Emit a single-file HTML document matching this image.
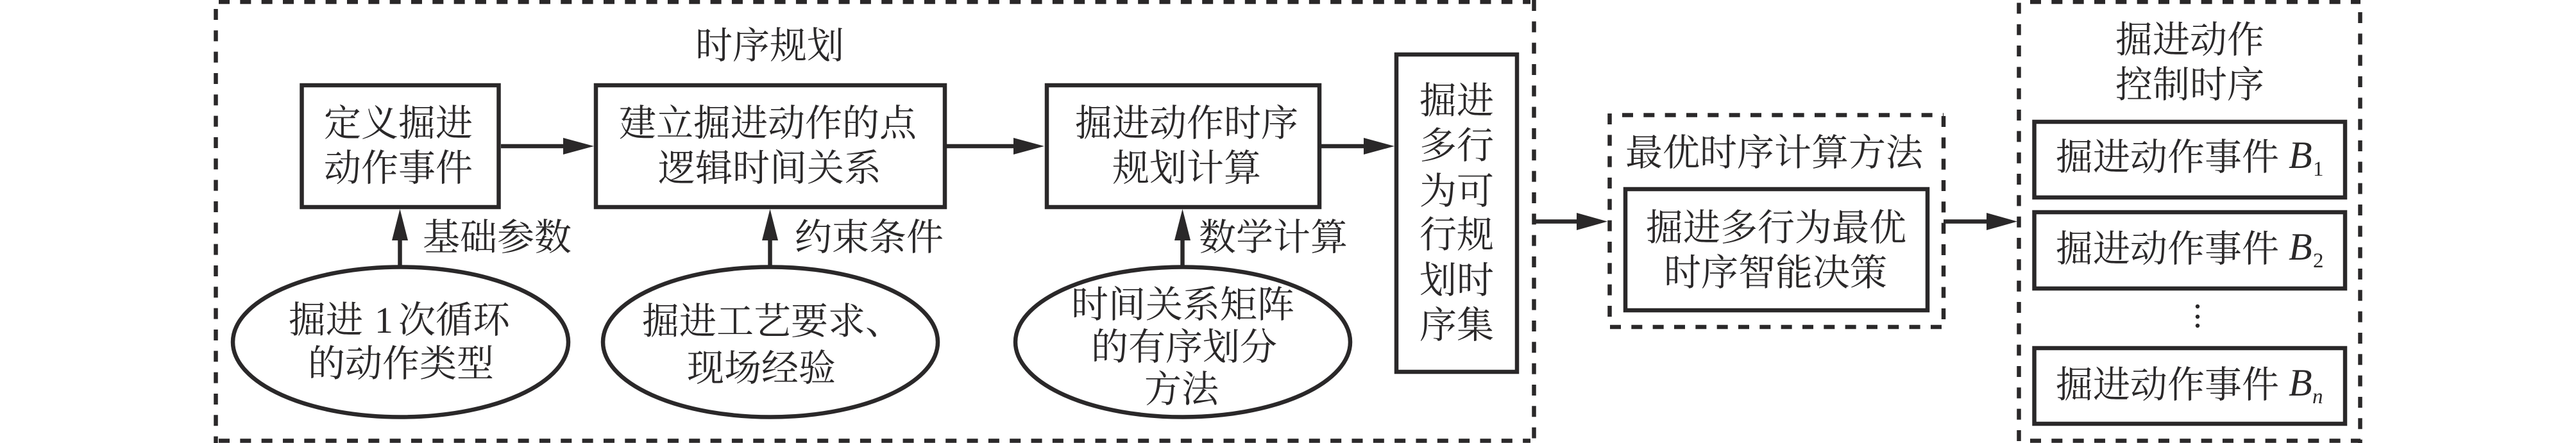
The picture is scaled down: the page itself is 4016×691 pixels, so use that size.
<!DOCTYPE html>
<html lang="zh"><head><meta charset="utf-8"><title>时序规划</title>
<style>
html,body{margin:0;padding:0;background:#fff}
svg{display:block}
text{font-family:"Liberation Serif","Noto Serif CJK SC",serif;font-size:58px;fill:#2a2829}
.d{stroke:#2a2829;stroke-width:6.5;stroke-dasharray:17 16.33;fill:none}
.b{stroke:#2a2829;stroke-width:6.5;fill:#fff}
.l{stroke:#2a2829;stroke-width:6.5;fill:none}
.h{fill:#2a2829;stroke:none}
.i{font-style:italic;font-size:60px}
.s{font-size:33px}
.si{font-size:33px;font-style:italic}
</style></head><body>
<svg xmlns="http://www.w3.org/2000/svg" width="4016" height="691" viewBox="0 0 4016 691">
<rect width="4016" height="691" fill="#fff"/>
<!-- dashed frames -->
<line class="d" x1="336.5" y1="14" x2="336.5" y2="691"/>
<line class="d" x1="341" y1="3" x2="2386" y2="3"/>
<line class="d" x1="341" y1="687.5" x2="2386" y2="687.5"/>
<line class="d" x1="2391.5" y1="0" x2="2391.5" y2="691"/>
<line class="d" x1="2509.5" y1="177" x2="2509.5" y2="510"/>
<line class="d" x1="2529" y1="179.5" x2="3030" y2="179.5"/>
<line class="d" x1="2510" y1="510" x2="3030" y2="510"/>
<line class="d" x1="3030" y1="181" x2="3030" y2="510"/>
<line class="d" x1="3147.5" y1="4.4" x2="3147.5" y2="691"/>
<line class="d" x1="3165" y1="3" x2="3680" y2="3"/>
<line class="d" x1="3165" y1="687.5" x2="3680" y2="687.5"/>
<line class="d" x1="3679.5" y1="19" x2="3679.5" y2="691"/>
<!-- boxes -->
<rect class="b" x="470.5" y="133" width="307" height="190"/>
<rect class="b" x="929" y="133" width="544" height="190"/>
<rect class="b" x="1632" y="133" width="425" height="190"/>
<rect class="b" x="2177" y="85" width="188" height="495"/>
<rect class="b" x="2534" y="295" width="471" height="189"/>
<rect class="b" x="3171.5" y="190" width="484.5" height="118"/>
<rect class="b" x="3171.5" y="331" width="484.5" height="119"/>
<rect class="b" x="3171.5" y="543" width="484.5" height="118"/>
<!-- ellipses -->
<ellipse class="b" cx="624.5" cy="533.5" rx="261.5" ry="117"/>
<ellipse class="b" cx="1201" cy="533.5" rx="261" ry="117"/>
<ellipse class="b" cx="1844" cy="533.5" rx="261" ry="117"/>
<!-- arrows -->
<line class="l" x1="781" y1="228" x2="885" y2="228"/><polygon class="h" points="878,215 926,228 878,241"/>
<line class="l" x1="1476" y1="228" x2="1590" y2="228"/><polygon class="h" points="1580,215 1628,228 1580,241"/>
<line class="l" x1="2060" y1="228" x2="2135" y2="228"/><polygon class="h" points="2126,215 2174,228 2126,241"/>
<line class="l" x1="2391" y1="345.5" x2="2465" y2="345.5"/><polygon class="h" points="2458,332 2506,345.5 2458,359"/>
<line class="l" x1="3030" y1="345.5" x2="3105" y2="345.5"/><polygon class="h" points="3097,332 3145,345.5 3097,359"/>
<line class="l" x1="623.5" y1="414" x2="623.5" y2="370"/><polygon class="h" points="611,375 623.5,326 636,375"/>
<line class="l" x1="1200.5" y1="414" x2="1200.5" y2="370"/><polygon class="h" points="1188,375 1200.5,326 1213,375"/>
<line class="l" x1="1843.5" y1="414" x2="1843.5" y2="370"/><polygon class="h" points="1831,375 1843.5,326 1856,375"/>
<!-- labels -->
<text x="1084" y="91">时序规划</text>
<text x="505" y="212">定义掘进</text>
<text x="505" y="282">动作事件</text>
<text x="965" y="212">建立掘进动作的点</text>
<text x="1026" y="282">逻辑时间关系</text>
<text x="1676" y="212">掘进动作时序</text>
<text x="1734" y="282">规划计算</text>
<text x="659" y="390">基础参数</text>
<text x="1239" y="390">约束条件</text>
<text x="1869" y="390">数学计算</text>
<text x="450" y="519">掘进</text><text x="584" y="519">1</text><text x="621" y="519">次循环</text>
<text x="480" y="587">的动作类型</text>
<text x="1001" y="521">掘进工艺要求、</text>
<text x="1071" y="594">现场经验</text>
<text x="1670" y="495">时间关系矩阵</text>
<text x="1701" y="561">的有序划分</text>
<text x="1784" y="627">方法</text>
<text x="2213" y="177">掘进</text>
<text x="2213" y="247">多行</text>
<text x="2213" y="318">为可</text>
<text x="2213" y="386">行规</text>
<text x="2213" y="457">划时</text>
<text x="2213" y="527">序集</text>
<text x="2534" y="258">最优时序计算方法</text>
<text x="2566" y="375">掘进多行为最优</text>
<text x="2594" y="445">时序智能决策</text>
<text x="3298" y="82">掘进动作</text>
<text x="3298" y="152">控制时序</text>
<text x="3205" y="265">掘进动作事件</text><text class="i" x="3568" y="262">B</text><text class="s" x="3606" y="274">1</text>
<text x="3205" y="408">掘进动作事件</text><text class="i" x="3568" y="405">B</text><text class="s" x="3606" y="417">2</text>
<text x="3205" y="620">掘进动作事件</text><text class="i" x="3568" y="617">B</text><text class="si" x="3605" y="629">n</text>
<circle class="h" cx="3426" cy="478" r="3.2"/><circle class="h" cx="3426" cy="494" r="3.2"/><circle class="h" cx="3426" cy="508" r="3.2"/>
</svg>
</body></html>
